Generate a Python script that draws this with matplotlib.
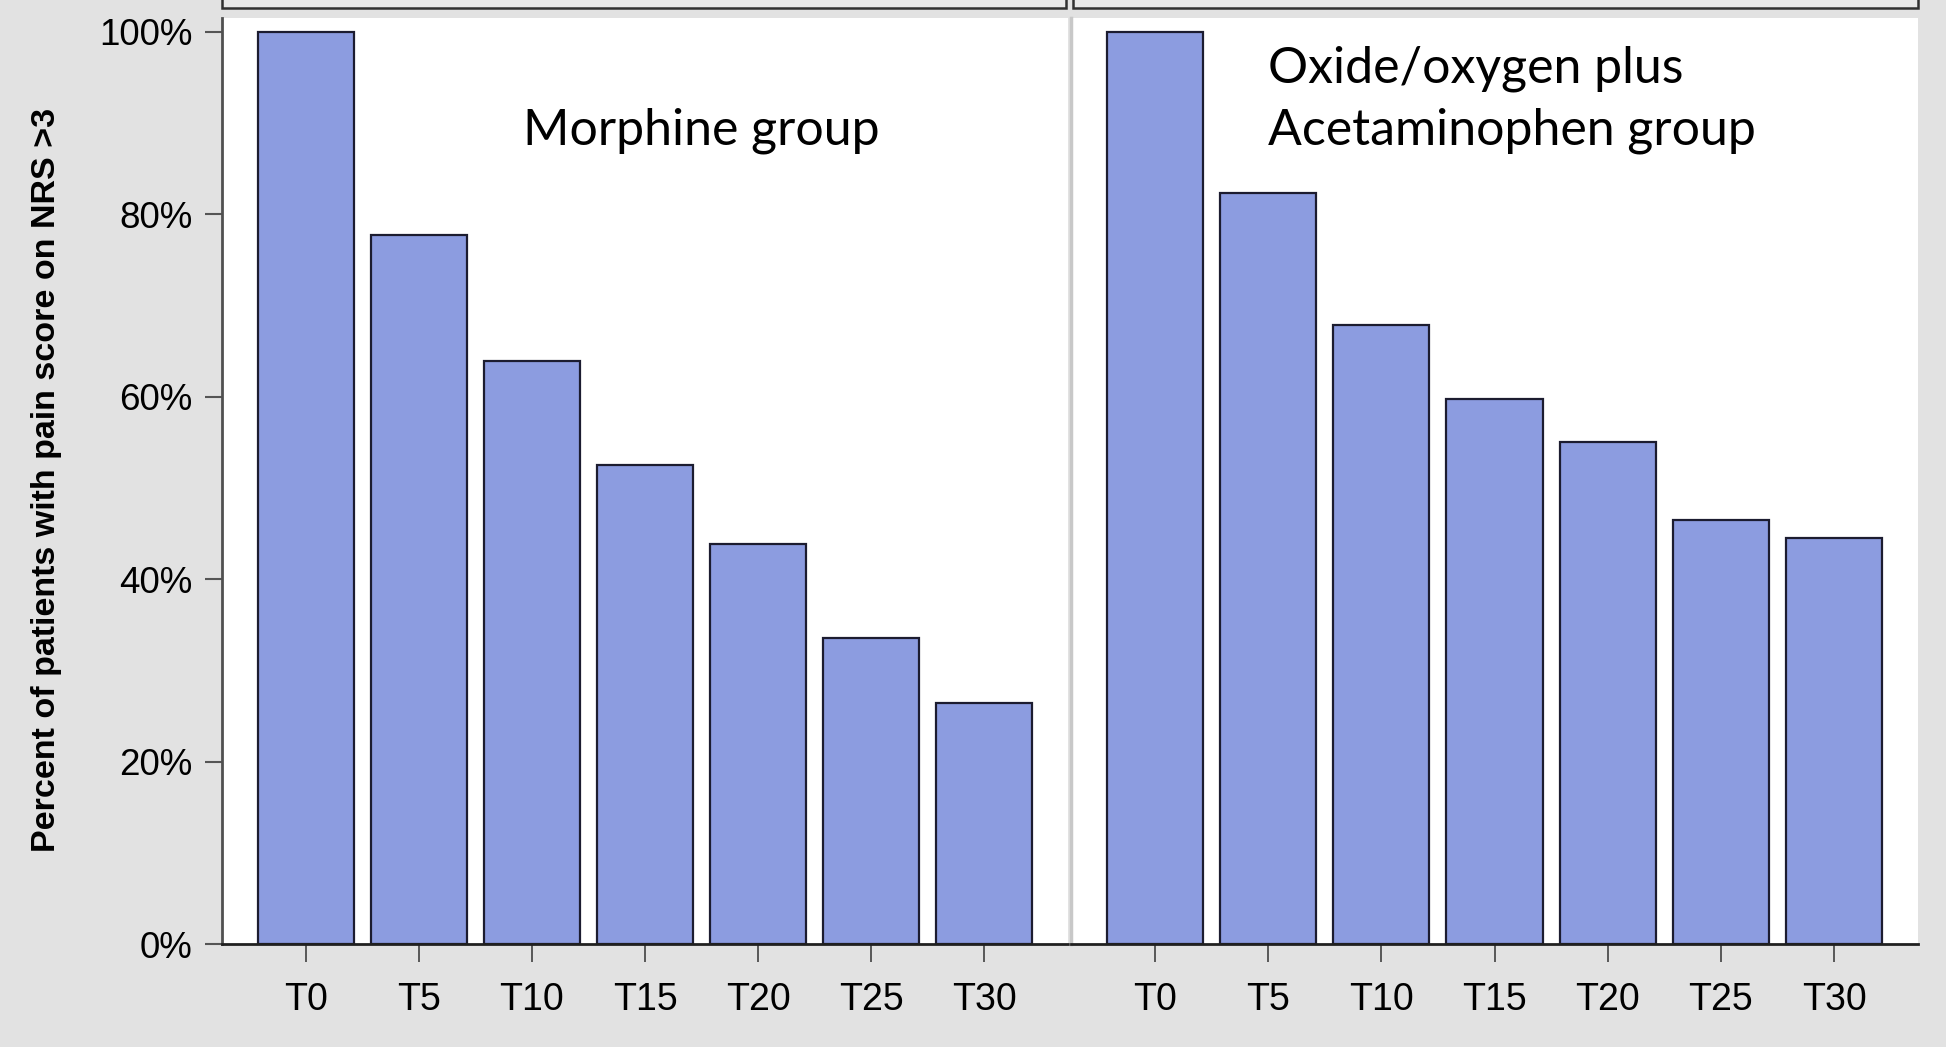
import matplotlib
matplotlib.use("Agg")
import matplotlib.pyplot as plt
from matplotlib.patches import Rectangle
import numpy as np

# data
times = ["T0", "T5", "T10", "T15", "T20", "T25", "T30"]
morphine = [100.0, 77.7, 63.9, 52.5, 43.8, 33.5, 26.4]
oxide_acet = [100.0, 82.3, 67.9, 59.7, 55.0, 46.5, 44.5]
y_ticks = [0, 20, 40, 60, 80, 100]
y_labels = ["0%", "20%", "40%", "60%", "80%", "100%"]

BAR = "#8c9ce0"
EDGE = "#1c1c30"
BG = "#e2e2e2"
W, H = 1946, 1047
LABEL_FONT = ["Lato", "DejaVu Sans"]

plt.rcParams["font.family"] = ["Liberation Sans", "DejaVu Sans"]

fig = plt.figure(figsize=(W / 100, H / 100), dpi=100, facecolor=BG)


def px(x0, y0, x1, y1):
    # pixel box (top-left origin) -> figure fraction rect
    return [x0 / W, 1 - y1 / H, (x1 - x0) / W, (y1 - y0) / H]


axL = fig.add_axes(px(222, 18, 1068, 944))
axR = fig.add_axes(px(1071, 18, 1918, 944))

for ax, vals in [(axL, morphine), (axR, oxide_acet)]:
    x = np.arange(len(times))
    ax.bar(x, vals, width=0.85, color=BAR, edgecolor=EDGE, linewidth=1.6, zorder=2)
    ax.set_xlim(-0.74, len(times) - 1 + 0.74)
    ax.set_ylim(0, 101.5)
    ax.set_xticks(x)
    ax.set_xticklabels(times, fontsize=27)
    ax.tick_params(axis="x", length=13, width=1.2, color="#404040", pad=14)
    ax.spines["top"].set_visible(False)
    ax.spines["right"].set_visible(False)
    ax.spines["bottom"].set_color("#202020")
    ax.spines["bottom"].set_linewidth(2)
    ax.set_facecolor("white")

axL.set_yticks(y_ticks)
axL.set_yticklabels(y_labels, fontsize=26.5)
axL.tick_params(axis="y", length=12, width=1.5, color="#555555", pad=9)
axL.spines["left"].set_color("#505050")
axL.spines["left"].set_linewidth(2)
fig.text(47 / W, 1 - 480 / H, "Percent of patients with pain score on NRS >3",
         rotation=90, fontsize=24.5, fontweight="bold", ha="center", va="center")

axR.set_yticks([])
axR.spines["left"].set_color("#c8c8c8")
axR.spines["left"].set_linewidth(2.5)

fig.text(523 / W, 1 - 144 / H, "Morphine group", fontsize=36,
         family=LABEL_FONT, va="baseline", ha="left")
fig.text(1268 / W, 1 - 82 / H, "Oxide/oxygen plus", fontsize=36,
         family=LABEL_FONT, va="baseline", ha="left")
fig.text(1268 / W, 1 - 145 / H, "Acetaminophen group", fontsize=36,
         family=LABEL_FONT, va="baseline", ha="left")

# cut-off panel header strips along the top edge
for x0, x1 in [(222, 1066), (1073, 1918)]:
    fig.patches.append(Rectangle((x0 / W, 1 - 8 / H), (x1 - x0) / W, 20 / H,
                                 transform=fig.transFigure, facecolor="#e8e8e8",
                                 edgecolor="#303030", linewidth=1.8))

fig.savefig("out.png", dpi=100, facecolor=BG)
